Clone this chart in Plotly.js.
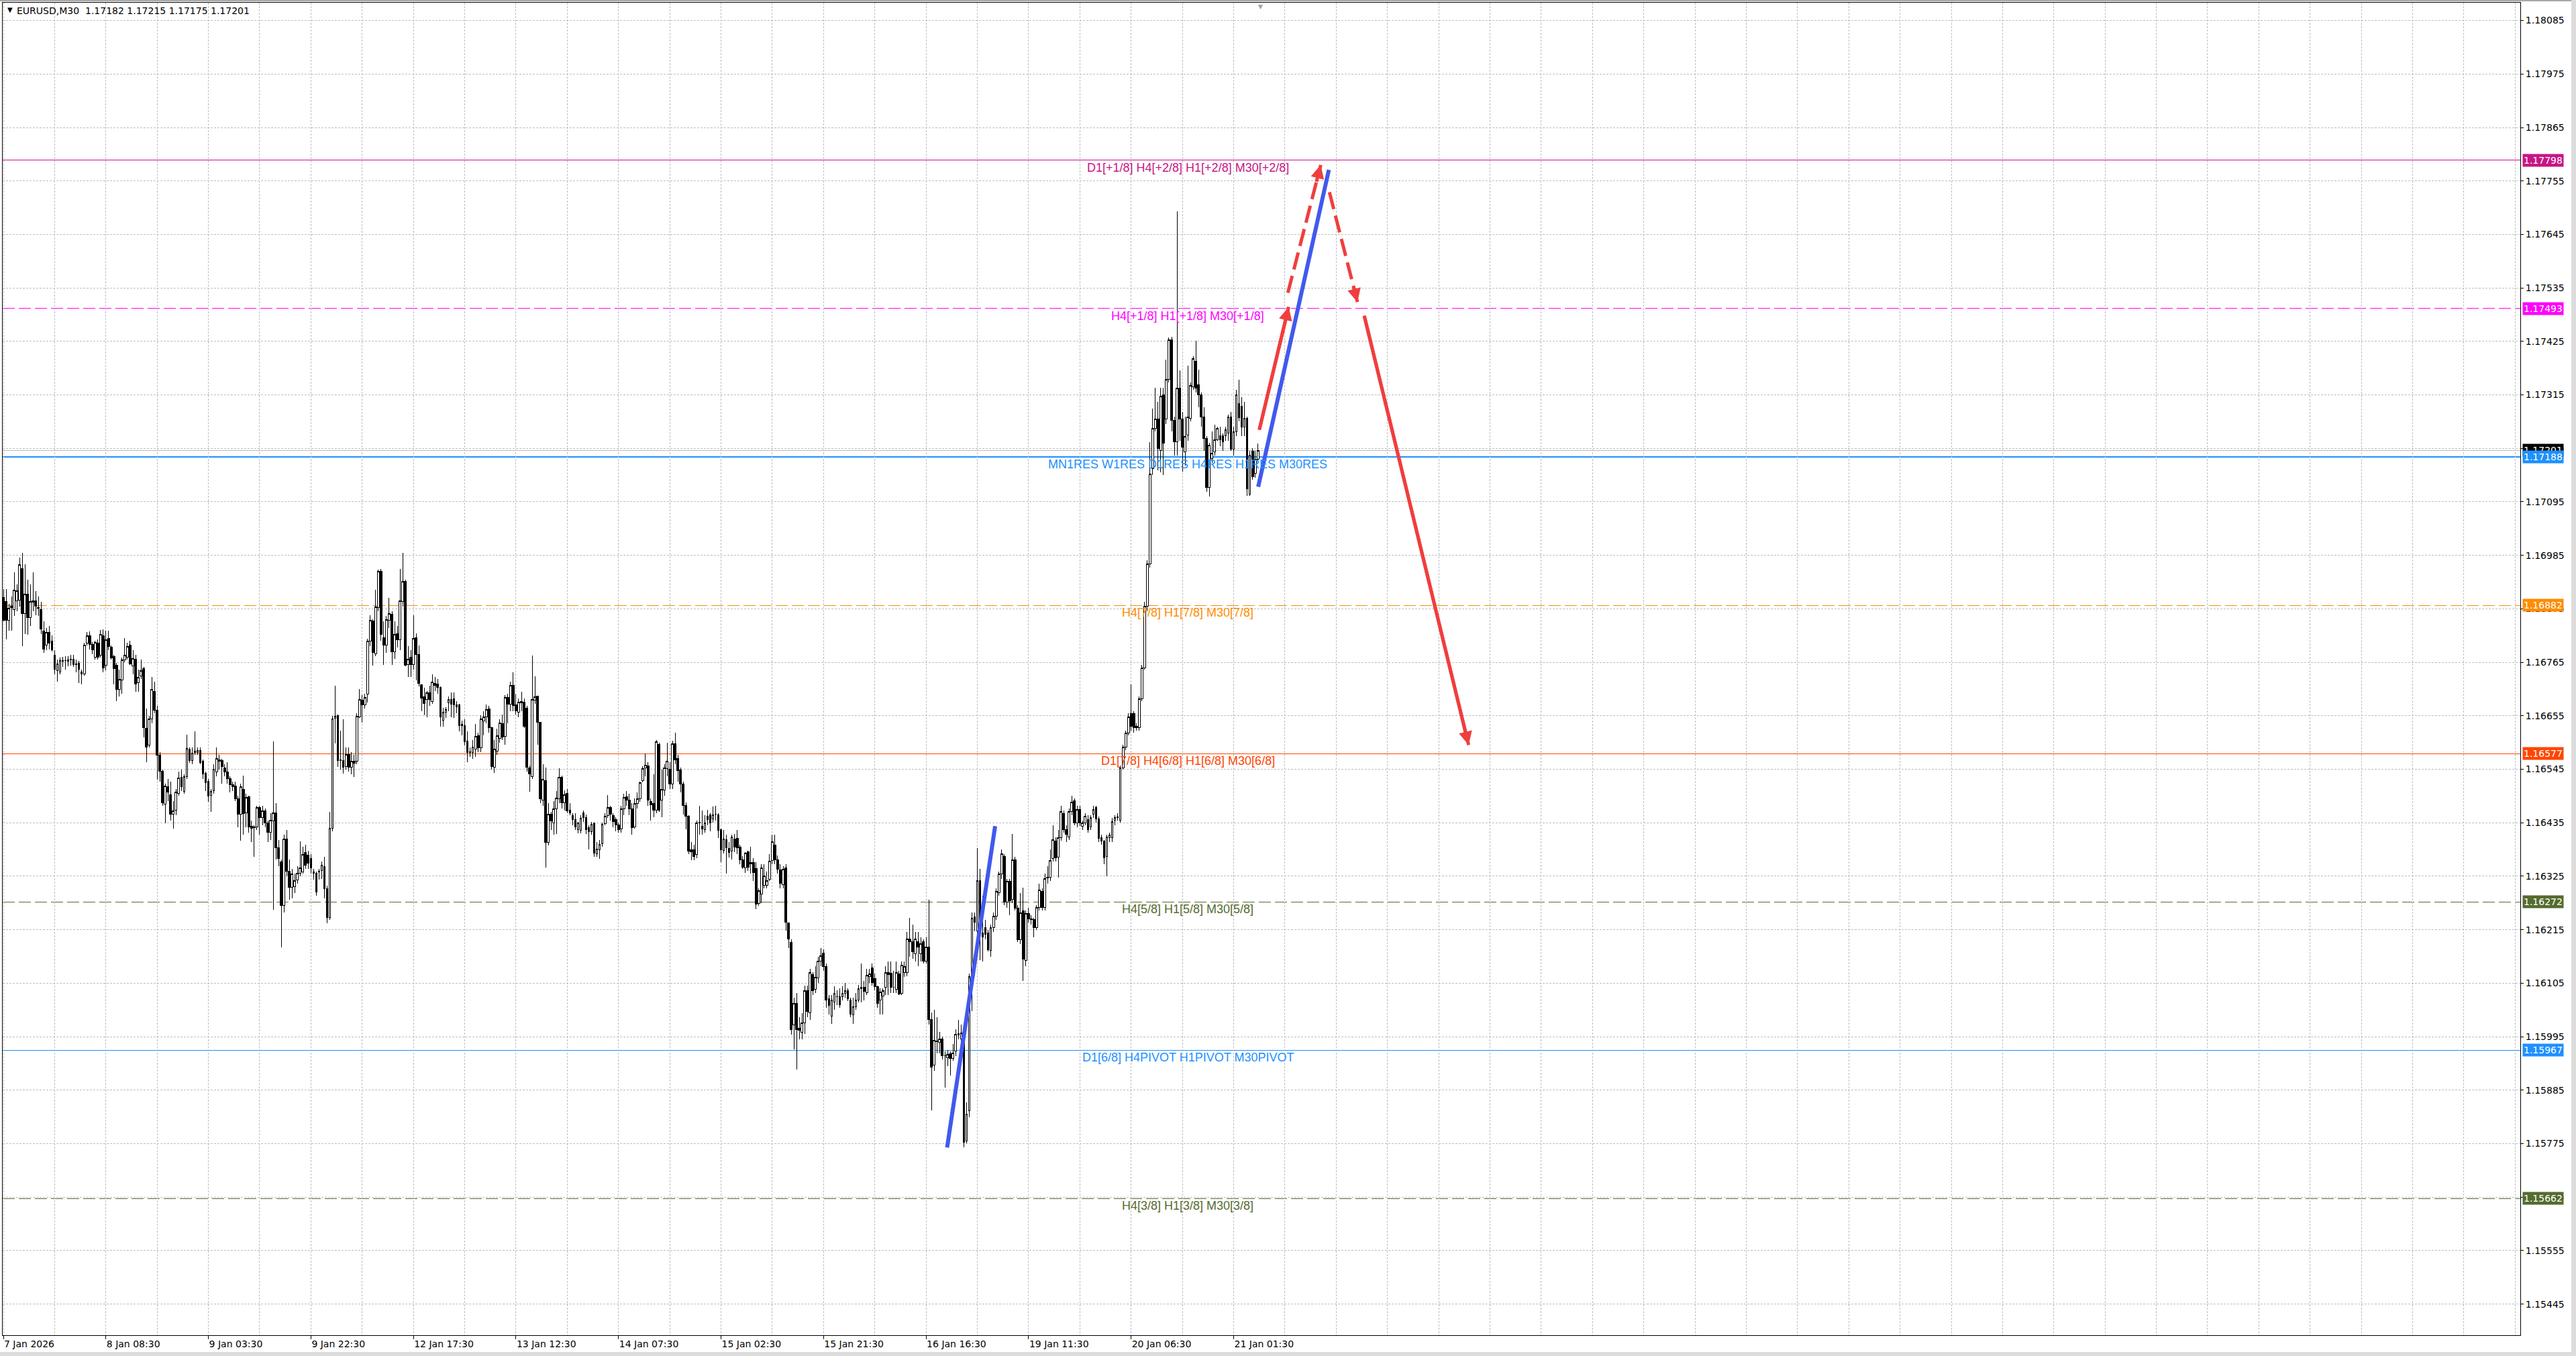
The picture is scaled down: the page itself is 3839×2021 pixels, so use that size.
<!DOCTYPE html>
<html><head><meta charset="utf-8">
<script src="https://cdn.plot.ly/plotly-3.0.1.min.js"></script>
<style>html,body{margin:0;padding:0;background:#fff;}#chart{width:3839px;height:2021px;}
#chart path{shape-rendering:crispEdges;}
#chart .scatterlayer path, #chart .annotation path, #chart .annotation-arrow-g path{shape-rendering:geometricPrecision;}
</style>
</head><body><div id="chart"></div>
<script>
// ---- DATA (candles in points above 1.15000, 1 point = 0.00001) ----
const BASE = 1.15, POINT = 0.00001;
const symbolTitle = "EURUSD,M30";
const dateLabels = ["7 Jan 2026","8 Jan 08:30","9 Jan 03:30","9 Jan 22:30","12 Jan 17:30","13 Jan 12:30","14 Jan 07:30","15 Jan 02:30","15 Jan 21:30","16 Jan 16:30","19 Jan 11:30","20 Jan 06:30","21 Jan 01:30"];
const barsPerLabel = 38, barsPerGrid = 19;
const priceTicks = [1.18085,1.17975,1.17865,1.17755,1.17645,1.17535,1.17425,1.17315,1.17205,1.17095,1.16985,1.16875,1.16765,1.16655,1.16545,1.16435,1.16325,1.16215,1.16105,1.15995,1.15885,1.15775,1.15665,1.15555,1.15445];

const openPts = [1898,1890,1851,1877,1873,1891,1893,1957,1865,1905,
1857,1888,1891,1878,1873,1829,1801,1827,1809,1779,
1748,1745,1767,1768,1767,1770,1771,1760,1763,1745,
1741,1804,1819,1802,1776,1805,1779,1820,1759,1814,
1796,1777,1759,1709,1729,1770,1776,1801,1758,1772,
1723,1737,1752,1629,1595,1648,1705,1666,1574,1541,
1473,1509,1492,1452,1461,1496,1529,1500,1530,1587,
1563,1579,1579,1584,1562,1537,1520,1491,1501,1539,
1565,1563,1548,1539,1526,1513,1511,1485,1452,1504,
1455,1488,1428,1426,1426,1466,1446,1459,1434,1415,
1439,1456,1384,1354,1265,1401,1335,1302,1304,1318,
1331,1334,1374,1368,1362,1334,1331,1334,1337,1345,
1300,1240,1424,1650,1655,1565,1563,1550,1576,1549,
1562,1561,1653,1687,1678,1699,1809,1850,1782,1878,
1952,1816,1800,1851,1864,1787,1824,1811,1890,1931,
1760,1775,1761,1816,1781,1719,1694,1689,1702,1685,
1722,1720,1713,1646,1662,1682,1688,1690,1678,1678,
1637,1635,1603,1581,1579,1587,1614,1589,1644,1653,
1669,1631,1549,1582,1609,1639,1612,1693,1679,1718,
1678,1663,1682,1683,1671,1548,1530,1687,1695,1641,
1482,1522,1394,1453,1434,1464,1485,1529,1476,1495,
1461,1450,1442,1421,1420,1455,1446,1425,1417,1434,
1371,1380,1392,1433,1450,1466,1450,1441,1430,1422,
1464,1489,1482,1464,1427,1474,1484,1521,1548,1552,
1479,1474,1461,1596,1481,1502,1546,1545,1514,1598,
1567,1543,1514,1470,1449,1379,1379,1370,1435,1428,
1421,1449,1451,1443,1452,1451,1421,1378,1400,1382,
1376,1402,1403,1385,1359,1342,1375,1353,1353,1341,
1269,1288,1306,1306,1319,1358,1389,1359,1338,1308,
1342,1229,1189,1019,1064,1013,1004,1024,1090,1044,
1123,1093,1116,1151,1167,1139,1073,1037,1066,1077,
1077,1077,1084,1090,1070,1040,1056,1070,1094,1097,
1086,1118,1136,1114,1098,1070,1079,1096,1127,1125,
1096,1093,1124,1084,1127,1127,1196,1191,1165,1190,
1165,1190,1151,1180,1030,937,985,984,990,956,
951,960,950,966,998,990,1002,780,843,1119,
1241,1212,1316,1208,1220,1208,1172,1219,1243,1291,
1330,1366,1272,1315,1277,1359,1260,1195,1254,1152,
1248,1237,1236,1220,1261,1294,1261,1321,1323,1361,
1398,1364,1404,1454,1421,1406,1458,1480,1435,1462,
1428,1435,1442,1426,1452,1466,1443,1404,1397,1366,
1404,1404,1440,1445,1440,1548,1590,1620,1660,1660,
1634,1630,1690,1754,1880,1967,2163,2246,2265,2200,
2315,2265,2347,2428,2262,2219,2329,2265,2198,2232,
2267,2331,2384,2336,2315,2269,2225,2124,2184,2198,
2223,2231,2231,2231,2237,2269,2203,2239,2297,2292,
2249,2267,2111,2199,2154,2182];

const highPts = [1915,1915,1885,1900,1950,1925,1980,1990,1967,1935,
1925,1950,1912,1900,1890,1850,1836,1840,1820,1790,
1770,1775,1776,1777,1778,1780,1780,1770,1768,1750,
1805,1827,1828,1806,1810,1812,1832,1833,1830,1830,
1800,1780,1764,1750,1775,1815,1805,1810,1790,1780,
1750,1770,1755,1670,1655,1735,1725,1675,1580,1545,
1515,1525,1520,1480,1505,1540,1545,1535,1616,1590,
1590,1623,1590,1590,1565,1540,1525,1505,1555,1590,
1575,1567,1555,1560,1530,1520,1520,1490,1515,1532,
1495,1490,1440,1430,1470,1470,1470,1465,1440,1455,
1603,1475,1400,1360,1410,1420,1360,1340,1330,1345,
1397,1385,1390,1378,1370,1340,1335,1340,1355,1365,
1305,1458,1655,1717,1658,1625,1648,1590,1590,1580,
1575,1660,1710,1697,1700,1813,1862,1854,1914,1955,
1957,1850,1860,1898,1870,1850,1840,1957,1990,1935,
1798,1790,1862,1825,1799,1720,1713,1706,1717,1740,
1735,1730,1716,1672,1673,1695,1703,1703,1685,1680,
1645,1648,1623,1590,1605,1638,1620,1656,1665,1678,
1675,1632,1605,1628,1648,1657,1697,1700,1725,1745,
1700,1690,1705,1690,1675,1553,1779,1736,1696,1642,
1556,1548,1475,1458,1480,1500,1547,1532,1501,1505,
1476,1455,1454,1437,1451,1460,1452,1430,1437,1436,
1395,1400,1436,1455,1492,1470,1455,1447,1435,1470,
1495,1500,1495,1475,1485,1497,1520,1551,1578,1560,
1485,1535,1605,1600,1544,1555,1600,1560,1604,1620,
1575,1548,1520,1477,1450,1395,1390,1440,1470,1460,
1450,1462,1455,1468,1470,1455,1423,1420,1410,1395,
1410,1412,1420,1390,1366,1375,1378,1385,1362,1354,
1300,1350,1350,1335,1370,1410,1410,1368,1350,1345,
1350,1230,1195,1075,1085,1035,1043,1100,1100,1135,
1128,1140,1160,1177,1175,1145,1080,1080,1098,1090,
1095,1098,1105,1095,1075,1075,1085,1102,1145,1110,
1135,1135,1145,1125,1100,1095,1095,1140,1150,1150,
1130,1150,1130,1150,1150,1210,1239,1225,1210,1210,
1200,1195,1200,1277,1045,1050,1035,1005,995,965,
967,965,980,1010,1030,1020,1008,860,1125,1250,
1250,1383,1340,1285,1235,1215,1225,1250,1300,1335,
1380,1370,1320,1320,1412,1365,1265,1290,1301,1255,
1260,1245,1240,1265,1310,1300,1330,1345,1380,1430,
1405,1420,1470,1460,1430,1465,1490,1485,1470,1470,
1440,1455,1450,1450,1470,1470,1448,1410,1400,1410,
1415,1445,1450,1455,1552,1595,1625,1660,1720,1665,
1640,1695,1760,1890,1975,2218,2287,2329,2300,2330,
2330,2388,2433,2435,2270,2692,2365,2280,2270,2375,
2340,2395,2426,2367,2320,2290,2230,2216,2240,2253,
2250,2250,2236,2250,2275,2280,2250,2325,2346,2310,
2300,2270,2200,2205,2200,2215];

const lowPts = [1850,1812,1830,1830,1860,1870,1880,1798,1823,1822,
1840,1870,1862,1860,1823,1784,1790,1792,1787,1740,
1725,1740,1755,1750,1757,1758,1756,1745,1723,1720,
1738,1800,1792,1782,1770,1770,1775,1745,1748,1790,
1770,1720,1685,1695,1700,1765,1770,1760,1740,1705,
1705,1730,1610,1560,1590,1640,1660,1523,1520,1470,
1434,1480,1440,1423,1450,1490,1500,1495,1525,1558,
1556,1575,1575,1555,1525,1500,1478,1458,1495,1530,
1545,1515,1530,1515,1498,1500,1480,1425,1398,1410,
1425,1415,1395,1365,1420,1410,1430,1425,1395,1400,
1256,1360,1345,1178,1250,1325,1276,1280,1290,1310,
1325,1330,1340,1340,1330,1318,1285,1318,1320,1280,
1228,1235,1418,1598,1550,1545,1536,1545,1540,1535,
1529,1555,1650,1641,1670,1683,1798,1758,1778,1870,
1810,1760,1785,1835,1760,1772,1795,1790,1880,1757,
1735,1735,1750,1728,1715,1665,1656,1652,1676,1680,
1706,1700,1632,1632,1650,1665,1652,1650,1660,1623,
1615,1594,1559,1570,1567,1570,1580,1580,1615,1640,
1620,1545,1537,1575,1600,1605,1595,1640,1665,1664,
1658,1652,1665,1630,1540,1499,1525,1680,1595,1475,
1470,1343,1388,1420,1410,1412,1476,1465,1460,1455,
1450,1430,1420,1413,1413,1437,1412,1380,1410,1365,
1365,1361,1385,1430,1445,1440,1425,1418,1415,1415,
1450,1470,1450,1410,1423,1465,1478,1518,1530,1470,
1440,1447,1455,1457,1447,1490,1530,1505,1504,1555,
1520,1497,1452,1421,1370,1358,1358,1362,1410,1410,
1415,1430,1418,1435,1440,1403,1354,1372,1330,1364,
1360,1375,1370,1350,1340,1332,1336,1330,1315,1258,
1264,1270,1300,1300,1315,1350,1350,1330,1300,1300,
1213,1177,999,969,928,990,990,1000,1035,1030,
1080,1085,1105,1140,1130,1055,1040,1022,1050,1060,
1055,1070,1075,1068,1035,1022,1050,1065,1065,1070,
1080,1105,1100,1090,1055,1040,1040,1080,1080,1085,
1085,1085,1080,1080,1118,1120,1160,1155,1150,1140,
1150,1145,1145,1020,843,925,960,960,948,890,
935,915,945,955,990,985,768,775,830,1047,
1212,1205,1153,1150,1195,1170,1160,1210,1235,1285,
1320,1265,1260,1245,1270,1255,1190,1185,1109,1140,
1230,1225,1200,1215,1255,1255,1255,1310,1315,1355,
1355,1322,1398,1415,1395,1400,1450,1430,1425,1428,
1420,1430,1415,1420,1445,1435,1395,1390,1350,1325,
1395,1395,1430,1440,1435,1545,1585,1615,1625,1620,
1625,1625,1685,1750,1870,1960,2150,2240,2160,2156,
2150,2255,2340,2240,2190,2190,2220,2157,2170,2220,
2260,2325,2320,2290,2250,2200,2115,2106,2175,2190,
2220,2210,2200,2220,2220,2200,2190,2230,2260,2230,
2230,2108,2108,2140,2145,2175];

const closePts = [1852,1851,1876,1880,1913,1912,1966,1865,1905,1857,
1890,1892,1880,1876,1834,1792,1826,1804,1790,1751,
1762,1768,1768,1769,1770,1771,1760,1762,1750,1741,
1801,1819,1802,1790,1806,1776,1823,1754,1812,1798,
1774,1752,1709,1730,1770,1779,1798,1762,1773,1720,
1734,1748,1630,1590,1648,1709,1667,1574,1541,1476,
1511,1498,1453,1459,1498,1527,1509,1530,1588,1563,
1578,1582,1584,1559,1535,1517,1490,1499,1545,1567,
1562,1550,1540,1526,1513,1509,1485,1452,1509,1454,
1487,1426,1424,1425,1466,1446,1459,1434,1415,1440,
1455,1384,1362,1265,1401,1335,1302,1330,1316,1331,
1342,1370,1348,1352,1342,1331,1292,1335,1348,1300,
1240,1424,1649,1654,1563,1563,1549,1575,1549,1562,
1557,1654,1689,1678,1693,1808,1851,1785,1879,1952,
1822,1800,1853,1865,1786,1823,1811,1891,1931,1759,
1771,1761,1814,1781,1722,1691,1680,1702,1689,1724,
1717,1713,1653,1662,1668,1689,1679,1678,1673,1635,
1635,1602,1579,1579,1590,1612,1589,1648,1653,1668,
1630,1550,1586,1614,1640,1611,1693,1679,1718,1676,
1665,1683,1684,1634,1549,1535,1689,1694,1641,1485,
1524,1395,1453,1439,1463,1486,1529,1476,1493,1460,
1455,1442,1427,1434,1444,1446,1421,1417,1432,1372,
1381,1391,1432,1449,1466,1453,1437,1430,1421,1464,
1487,1481,1464,1425,1475,1485,1518,1547,1554,1481,
1472,1461,1601,1461,1504,1548,1562,1514,1597,1564,
1542,1514,1470,1449,1376,1375,1366,1435,1436,1422,
1434,1442,1435,1451,1453,1419,1379,1402,1384,1374,
1406,1385,1384,1359,1344,1372,1344,1350,1333,1268,
1295,1342,1325,1316,1356,1396,1359,1339,1311,1339,
1230,1196,1010,1064,1010,1008,1024,1090,1047,1127,
1090,1117,1150,1162,1139,1070,1059,1070,1084,1077,
1061,1084,1090,1073,1041,1057,1071,1094,1097,1088,
1122,1124,1106,1098,1063,1087,1090,1127,1123,1096,
1096,1127,1083,1142,1140,1196,1191,1170,1196,1179,
1186,1150,1180,1030,932,987,986,990,956,956,
959,950,961,1000,1001,1003,778,836,1119,1239,
1231,1316,1208,1200,1206,1174,1219,1243,1294,1330,
1371,1272,1315,1274,1359,1260,1195,1250,1154,1248,
1237,1236,1219,1261,1296,1261,1320,1323,1357,1400,
1363,1404,1458,1421,1411,1458,1478,1435,1462,1435,
1435,1449,1421,1445,1462,1443,1403,1397,1363,1406,
1410,1438,1445,1447,1548,1590,1620,1652,1634,1631,
1631,1690,1754,1880,1967,2152,2246,2265,2205,2313,
2216,2347,2428,2262,2219,2329,2265,2207,2230,2269,
2334,2389,2329,2315,2269,2225,2124,2212,2195,2223,
2246,2223,2218,2244,2269,2203,2239,2315,2268,2249,
2267,2122,2191,2147,2182,2201];

// horizontal levels
const levelPrices = [1.17798,1.17493,1.17188,1.16882,1.16577,1.16272,1.15967,1.15662];
const levelTexts = ["D1[+1/8] H4[+2/8] H1[+2/8] M30[+2/8]","H4[+1/8] H1[+1/8] M30[+1/8]","MN1RES W1RES D1RES H4RES H1RES M30RES","H4[7/8] H1[7/8] M30[7/8]","D1[7/8] H4[6/8] H1[6/8] M30[6/8]","H4[5/8] H1[5/8] M30[5/8]","D1[6/8] H4PIVOT H1PIVOT M30PIVOT","H4[3/8] H1[3/8] M30[3/8]"];
const levelColors = ["#C71585","#FF00FF","#1E90FF","#FF8C00","#FF4500","#556B2F","#1E90FF","#556B2F"];
const levelDashed = [false,true,false,true,false,true,false,true];
const levelWidths = [1,1,2,1,1,1,1,1];
const levelTextBar = 439;
const bidPrice = 1.17201;

// drawn trend lines (bar index, price)
const blueLineBars = [[349.8,367.6],[465.1,491.3]];
const blueLinePrices = [[1.15767,1.16428],[1.17126,1.17778]];
const redArrowBars = [[465.5,476.4],[476.1,488.3],[491.5,501.9],[504.4,543.1]];
const redArrowPrices = [[1.17243,1.17496],[1.17525,1.17788],[1.17732,1.17506],[1.17478,1.16595]];
const redArrowDashed = [false,true,true,false];

// ---- BUILD ----
const toPrice = v => +(BASE + v*POINT).toFixed(5);
const n = closePts.length;
const xs = Array.from({length:n},(_,i)=>i);
const RED = "#F03E3E", BLUE = "#4159EE";
const GRID = '#BDBDBD';

const traces = [{
  type:'candlestick', x:xs,
  open:openPts.map(toPrice), high:highPts.map(toPrice), low:lowPts.map(toPrice), close:closePts.map(toPrice),
  increasing:{line:{color:'#000',width:1},fillcolor:'#ffffff'},
  decreasing:{line:{color:'#000',width:1},fillcolor:'#000000'},
  whiskerwidth:0, hoverinfo:'skip', showlegend:false
}];
blueLineBars.forEach((b,i)=>traces.push({type:'scatter',mode:'lines',x:b,y:blueLinePrices[i],line:{color:BLUE,width:6},hoverinfo:'skip',showlegend:false}));
redArrowBars.forEach((b,i)=>traces.push({type:'scatter',mode:'lines',x:b,y:redArrowPrices[i],line:{color:RED,width:5,dash:redArrowDashed[i]?'26px,10px':'solid'},hoverinfo:'skip',showlegend:false}));

const PL=4, PR=3756, PT=4, PB=1990;
const paperX = px => (px-PL)/(PR-PL);
const paperY = py => (PB-py)/(PB-PT);

const shapes = [];
levelPrices.forEach((p,i)=>shapes.push({type:'line',xref:'paper',x0:0,x1:1,yref:'y',y0:p,y1:p,layer:'between',
  line:{color:levelColors[i],width:levelWidths[i],dash:levelDashed[i]?'18px,6px':'solid'}}));
shapes.push({type:'line',xref:'paper',x0:0,x1:1,yref:'y',y0:bidPrice,y1:bidPrice,layer:'between',line:{color:'#BDBDBD',width:1}});
// window frame strips
shapes.push({type:'rect',xref:'paper',yref:'paper',x0:paperX(0),x1:paperX(3839),y0:paperY(2),y1:paperY(0),fillcolor:'#A8A8A8',line:{width:0}});
shapes.push({type:'rect',xref:'paper',yref:'paper',x0:paperX(0),x1:paperX(3839),y0:paperY(2021),y1:paperY(2015),fillcolor:'#DCDCDC',line:{width:0}});
shapes.push({type:'rect',xref:'paper',yref:'paper',x0:paperX(3832),x1:paperX(3839),y0:paperY(2021),y1:paperY(0),fillcolor:'#DCDCDC',line:{width:0}});

const annotations = [];
levelPrices.forEach((p,i)=>annotations.push({x:levelTextBar,xref:'x',y:p,yref:'y',yshift:-11,text:levelTexts[i],showarrow:false,
  xanchor:'center',yanchor:'middle',font:{family:'Liberation Sans, Arial, sans-serif',size:18,color:levelColors[i]}}));
// price tags on the right axis
const tag = (p,bg)=>({xref:'paper',x:1,xshift:3,xanchor:'left',y:p,yref:'y',yanchor:'middle',text:p.toFixed(5),showarrow:false,
  bgcolor:bg,borderpad:1,font:{family:'DejaVu Sans, sans-serif',size:14,color:'#ffffff'}});
annotations.push(tag(bidPrice,'#000000'));
levelPrices.forEach((p,i)=>annotations.push(tag(p,levelColors[i])));
// arrow heads
redArrowBars.forEach((b,i)=>{
  const y = redArrowPrices[i];
  const k = redArrowDashed[i] ? 0.14 : 1.0;
  annotations.push({x:b[1],y:y[1],xref:'x',yref:'y',ax:b[1]-(b[1]-b[0])*k,ay:y[1]-(y[1]-y[0])*k,axref:'x',ayref:'y',
    showarrow:true,arrowhead:2,arrowsize:0.8,arrowwidth:5,arrowcolor:RED,standoff:0,text:''});
});
// header
const last = n-1;
annotations.push({xref:'paper',yref:'paper',x:paperX(9),y:paperY(7),xanchor:'left',yanchor:'top',showarrow:false,text:'▼',
  font:{family:'DejaVu Sans, sans-serif',size:10,color:'#000'}});
annotations.push({xref:'paper',yref:'paper',x:paperX(23),y:paperY(6),xanchor:'left',yanchor:'top',showarrow:false,
  text:symbolTitle+'  '+[openPts[last],highPts[last],lowPts[last],closePts[last]].map(v=>toPrice(v).toFixed(5)).join(' '),
  font:{family:'DejaVu Sans, sans-serif',size:14,color:'#000'}});
// chart-shift marker
annotations.push({xref:'paper',yref:'paper',x:paperX(1878),y:paperY(3),xanchor:'center',yanchor:'top',showarrow:false,text:'▼',
  font:{family:'DejaVu Sans, sans-serif',size:9,color:'#A0A0A0'}});

const tickvals = dateLabels.map((_,i)=>i*barsPerLabel);
const layout = {
  width:3839, height:2021,
  margin:{l:PL, r:3839-PR, t:PT, b:2021-PB, pad:0},
  paper_bgcolor:'#ffffff', plot_bgcolor:'#ffffff', showlegend:false,
  boxgap:0.15, boxgroupgap:0.2,
  xaxis:{range:[-0.25,932.9], tickmode:'array', tickvals:tickvals, ticktext:dateLabels,
    ticks:'outside', ticklen:5, tickcolor:'#000', tickwidth:1, ticklabelposition:'outside right',
    tickfont:{family:'DejaVu Sans, sans-serif',size:14,color:'#000'},
    showgrid:false, zeroline:false, showline:true, linecolor:'#000', linewidth:1, mirror:true,
    minor:{tickmode:'linear',tick0:0,dtick:barsPerGrid,showgrid:true,gridcolor:GRID,griddash:'3px,2px',gridwidth:1,ticks:''},
    rangeslider:{visible:false}, fixedrange:true},
  yaxis:{side:'right', range:[1.15381,1.181217], tickmode:'array', tickvals:priceTicks, ticktext:priceTicks.map(v=>v.toFixed(5)),
    ticks:'outside', ticklen:4, tickcolor:'#000',
    tickfont:{family:'DejaVu Sans, sans-serif',size:14,color:'#000'},
    showgrid:true, gridcolor:GRID, griddash:'3px,2px', gridwidth:1,
    zeroline:false, showline:true, linecolor:'#000', linewidth:1, mirror:true, fixedrange:true},
  shapes:shapes, annotations:annotations
};
Plotly.newPlot('chart', traces, layout, {staticPlot:true, displayModeBar:false});
</script>
</body></html>
